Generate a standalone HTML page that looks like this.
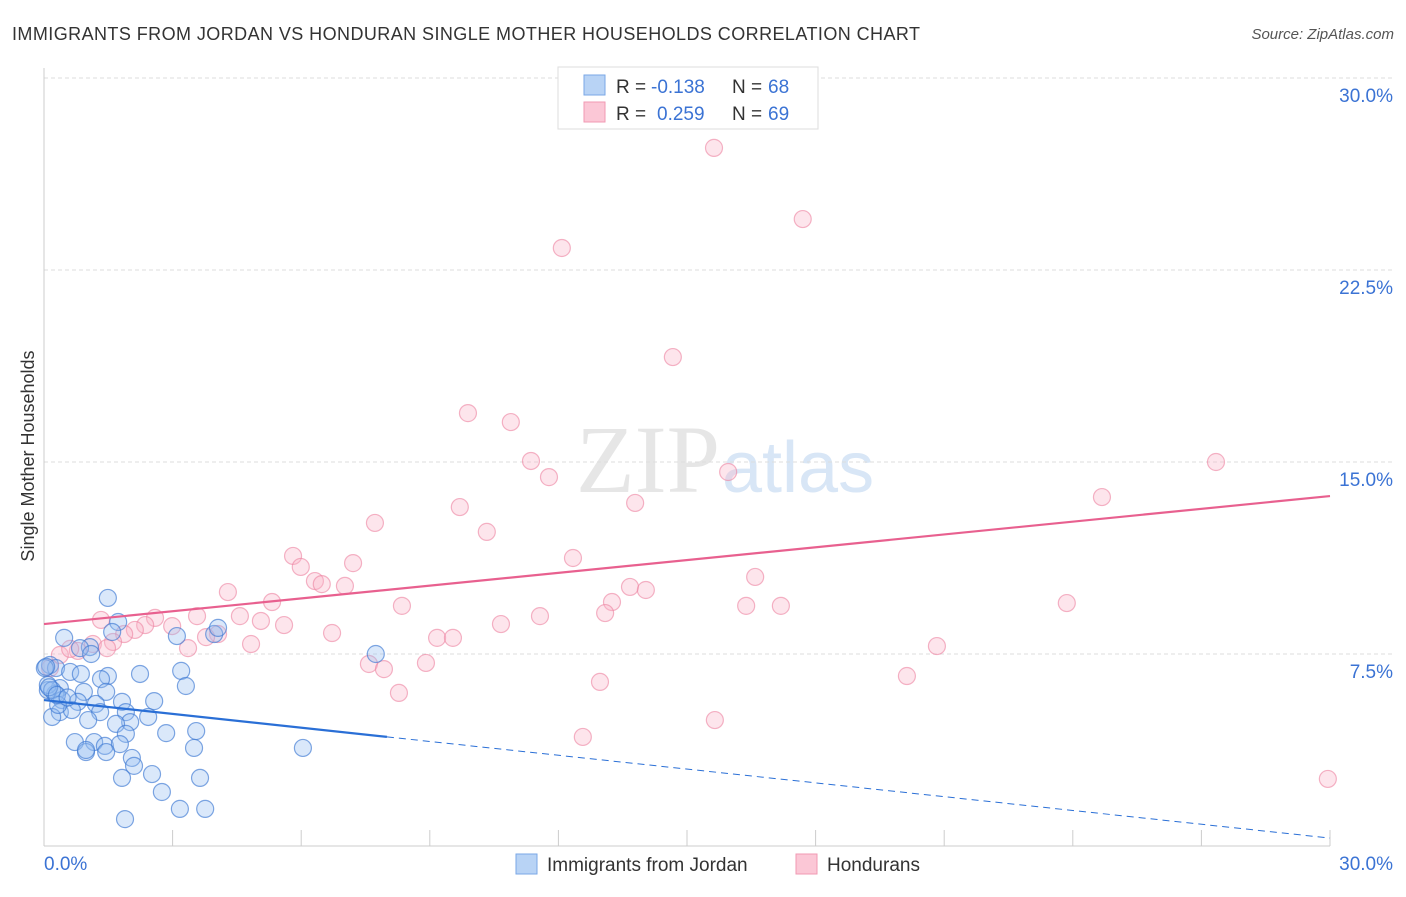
<!DOCTYPE html>
<html><head><meta charset="utf-8"><style>
body{margin:0;background:#fff;font-family:"Liberation Sans",sans-serif}
#c{position:relative;width:1406px;height:892px}
</style></head><body>
<div id="c">
<svg id="s" width="1406" height="892" xmlns="http://www.w3.org/2000/svg">
<text x="12" y="40" font-size="18" fill="#333" textLength="908">IMMIGRANTS FROM JORDAN VS HONDURAN SINGLE MOTHER HOUSEHOLDS CORRELATION CHART</text>
<text x="1394" y="39" font-size="15" fill="#555" font-style="italic" text-anchor="end">Source: ZipAtlas.com</text>
<text x="34" y="456" font-size="18" fill="#333" text-anchor="middle" transform="rotate(-90 34 456)">Single Mother Households</text>
<text x="720" y="492" font-size="96" fill="#e6e6e6" font-family="Liberation Serif" text-anchor="end">ZIP</text>
<text x="722" y="492" font-size="72" fill="#d8e6f6" text-anchor="start">atlas</text>
<g id="grid"></g><g id="pts"></g><g id="lines"></g>
<g>
<rect x="558" y="67" width="260" height="62" fill="#fff" stroke="#ddd"/>
<rect x="584" y="75" width="21" height="20" fill="#b8d3f5" stroke="#7aa7e6"/>
<rect x="584" y="102" width="21" height="20" fill="#fbc7d6" stroke="#f09ab3"/>
<text x="616" y="93" font-size="19" fill="#333">R =</text>
<text x="651" y="93" font-size="19" fill="#3b73d4">-0.138</text>
<text x="732" y="93" font-size="19" fill="#333">N =</text>
<text x="768" y="93" font-size="19" fill="#3b73d4">68</text>
<text x="616" y="120" font-size="19" fill="#333">R =</text>
<text x="657" y="120" font-size="19" fill="#3b73d4">0.259</text>
<text x="732" y="120" font-size="19" fill="#333">N =</text>
<text x="768" y="120" font-size="19" fill="#3b73d4">69</text>
</g>
<g>
<rect x="516" y="854" width="21" height="20" fill="#b8d3f5" stroke="#7aa7e6"/>
<text x="547" y="871" font-size="19" fill="#333">Immigrants from Jordan</text>
<rect x="796" y="854" width="21" height="20" fill="#fbc7d6" stroke="#f09ab3"/>
<text x="827" y="871" font-size="19" fill="#333">Hondurans</text>
</g>
</svg>
</div>
<script>
const yTicks=[7.5,15,22.5,30];
const yTickLabels=["7.5%","15.0%","22.5%","30.0%"];
const xTickLabels=["0.0%","30.0%"];
const jordanX=[1.49,1.73,1.59,0.47,3.10,3.97,4.06,7.74,1.07,0.84,1.10,0.14,0.28,0.61,0.86,1.49,2.24,3.20,1.33,0.37,0.09,0.26,0.93,1.45,3.31,0.42,0.79,1.21,1.82,2.57,0.37,0.65,1.31,1.91,0.19,1.03,2.01,2.43,1.68,3.55,2.85,1.91,0.72,1.17,1.42,1.77,3.50,6.04,0.98,1.45,0.98,2.05,2.10,2.52,1.82,3.64,2.75,3.17,3.76,1.89,0.02,0.09,0.19,0.33,0.05,0.12,0.30,0.55];
const jordanY=[9.69,8.75,8.36,8.13,8.20,8.28,8.52,7.50,7.77,7.73,7.50,7.07,6.95,6.80,6.72,6.64,6.72,6.84,6.52,6.17,6.09,5.94,6.02,6.02,6.25,5.70,5.63,5.55,5.63,5.66,5.23,5.31,5.23,5.23,5.04,4.92,4.84,5.04,4.77,4.49,4.41,4.38,4.06,4.06,3.91,3.98,3.83,3.83,3.67,3.67,3.75,3.44,3.13,2.81,2.66,2.66,2.11,1.45,1.45,1.05,6.95,6.29,6.09,5.51,7.00,6.20,5.90,5.80];
const hondX=[15.63,17.70,12.08,14.67,9.89,10.89,11.36,27.34,15.96,11.78,24.68,13.79,9.70,7.72,10.33,12.34,5.81,7.21,5.99,16.59,6.32,6.48,7.02,13.67,14.04,4.29,5.32,13.25,8.35,23.86,16.38,17.19,4.57,11.57,13.09,3.57,2.59,5.06,5.60,1.33,2.36,2.99,2.12,1.87,10.66,6.72,4.06,3.78,1.14,1.61,9.17,9.54,4.83,3.36,0.79,0.37,0.61,20.83,1.47,7.58,7.93,8.91,20.13,12.97,8.28,15.65,12.57,29.95,0.14];
const hondY=[27.27,24.49,23.36,19.10,16.91,16.56,15.04,15.00,14.61,14.41,13.63,13.40,13.24,12.62,12.27,11.25,11.33,11.05,10.90,10.51,10.35,10.23,10.16,10.12,10.00,9.92,9.53,9.53,9.38,9.49,9.38,9.38,8.98,8.98,9.10,8.98,8.91,8.79,8.63,8.83,8.63,8.59,8.44,8.28,8.67,8.32,8.28,8.16,7.89,7.97,8.13,8.13,7.89,7.73,7.62,7.46,7.70,7.81,7.73,7.11,6.91,7.15,6.64,6.41,5.98,4.92,4.26,2.62,6.95];
const jordanTrend=[5.70,0.31];
const hondTrend=[8.67,13.67];
const NS="http://www.w3.org/2000/svg";
const X=v=>44+v*(1286/30), Y=v=>846-v*25.6;
function mk(t,a,p){const e=document.createElementNS(NS,t);for(const k in a)e.setAttribute(k,a[k]);p.appendChild(e);return e;}
const g=document.getElementById('grid');
yTicks.forEach((t,i)=>{
 const l=mk('line',{x1:44,x2:1394,y1:Y(t),y2:Y(t),stroke:'#ddd','stroke-dasharray':'4,3'},g);
 
 
 const tx=mk('text',{x:1393,y:Y(t)+24,'font-size':19,fill:'#3b73d4','text-anchor':'end'},g);
 tx.textContent=yTickLabels[i];
 
 
});
const ax=mk('line',{x1:44,x2:44,y1:68,y2:846,stroke:'#ccc'},g);


const bx=mk('line',{x1:44,x2:1330,y1:846,y2:846,stroke:'#ccc'},g);


for(let i=1;i<=10;i++){const tk=mk('line',{x1:X(i*3),x2:X(i*3),y1:830,y2:846,stroke:'#ccc'},g);
 
 }
const x0=mk('text',{x:44,y:870,'font-size':19,fill:'#3b73d4'},g);x0.textContent=xTickLabels[0];


const x1=mk('text',{x:1393,y:870,'font-size':19,fill:'#3b73d4','text-anchor':'end'},g);x1.textContent=xTickLabels[1];


const P=document.getElementById('pts');
hondX.forEach((v,i)=>{const c=mk('circle',{cx:X(v),cy:Y(hondY[i]),r:8.5,fill:'rgba(248,180,200,0.35)',stroke:'rgba(236,130,160,0.6)','stroke-width':1.2},P);
 
 });
jordanX.forEach((v,i)=>{const c=mk('circle',{cx:X(v),cy:Y(jordanY[i]),r:8.5,fill:'rgba(150,190,240,0.35)',stroke:'rgba(60,120,210,0.65)','stroke-width':1.2},P);
 
 });
const L=document.getElementById('lines');
const jt=v=>jordanTrend[0]+(jordanTrend[1]-jordanTrend[0])*v/30;
const l1=mk('line',{x1:X(0),y1:Y(jt(0)),x2:X(8),y2:Y(jt(8)),stroke:'#2a6fd6','stroke-width':2.2},L);


const l2=mk('line',{x1:X(8),y1:Y(jt(8)),x2:X(30),y2:Y(jt(30)),stroke:'#2a6fd6','stroke-width':1,'stroke-dasharray':'7,5'},L);


const l3=mk('line',{x1:X(0),y1:Y(hondTrend[0]),x2:X(30),y2:Y(hondTrend[1]),stroke:'#e8608f','stroke-width':2.2},L);


</script>
</body></html>
